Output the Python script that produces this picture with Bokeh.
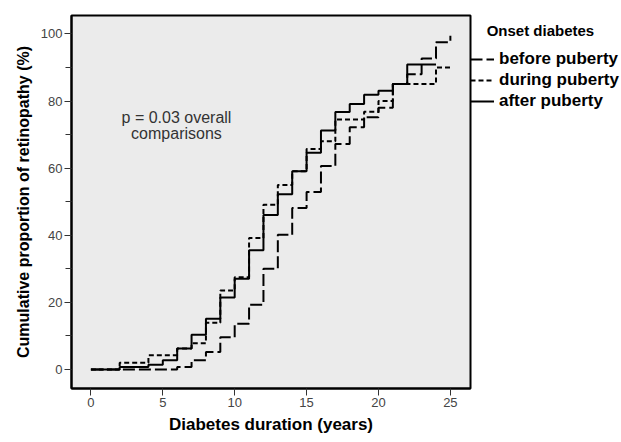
from bokeh.plotting import figure
from bokeh.models import Range1d, Legend, LegendItem, FixedTicker, Label
from bokeh.embed import file_html
from bokeh.resources import INLINE

# Data
before_x = [0, 6, 7, 8, 9, 10, 11, 12, 13, 14, 15, 16, 17, 18, 19, 20, 21, 22, 23, 24, 25]
before_y = [0, 0.7, 2.7, 5.2, 9.6, 13.6, 19.3, 30.0, 40.1, 48.1, 52.9, 60.6, 67.2, 72.2, 75.2, 78.0, 85.1, 88.0, 92.7, 97.5, 99.5]

during_x = [0, 2, 4, 6, 7, 8, 9, 10, 11, 12, 13, 14, 15, 16, 17, 19, 20, 21, 24, 25]
during_y = [0, 2.0, 4.2, 6.2, 7.8, 13.9, 23.5, 27.5, 39.2, 49.1, 55.0, 59.1, 65.7, 68.0, 74.5, 76.8, 80.0, 85.1, 90.0, 90.0]

after_x = [0, 2, 4, 5, 6, 7, 8, 9, 10, 11, 12, 13, 14, 15, 16, 17, 18, 19, 20, 21, 22, 24]
after_y = [0, 0.7, 1.4, 2.7, 6.2, 10.3, 15.1, 21.4, 27.0, 35.5, 46.0, 52.2, 59.1, 64.6, 71.2, 76.7, 79.1, 81.9, 83.1, 85.1, 90.9, 90.9]

x_ticks = [0, 5, 10, 15, 20, 25]
y_ticks = [0, 20, 40, 60, 80, 100]
y_minor = [10, 30, 50, 70, 90]

FONT = "Liberation Sans"

p = figure(frame_width=399, frame_height=373, output_backend="svg", toolbar_location=None,
           x_range=Range1d(-1.35, 26.4), y_range=Range1d(-5.7, 105.5),
           min_border_left=71, min_border_top=15, min_border_right=0, min_border_bottom=0)

p.background_fill_color = "#ebebeb"
p.border_fill_color = "white"
p.outline_line_color = "black"
p.outline_line_width = 2
p.grid.visible = False

r_before = p.step(before_x, before_y, mode="after", line_color="black", line_width=2, line_dash="12 4")
r_during = p.step(during_x, during_y, mode="after", line_color="black", line_width=2, line_dash="5 3")
r_after = p.step(after_x, after_y, mode="after", line_color="black", line_width=2)

p.xaxis.ticker = FixedTicker(ticks=x_ticks)
p.yaxis.ticker = FixedTicker(ticks=y_ticks, minor_ticks=y_minor)
for ax in (p.xaxis[0], p.yaxis[0]):
    ax.axis_line_color = "black"
    ax.axis_line_width = 2
    ax.major_tick_line_color = "#333333"
    ax.minor_tick_line_color = "#333333"
    ax.major_tick_out = 7
    ax.major_tick_in = 0
    ax.minor_tick_out = 6
    ax.minor_tick_in = 0
    ax.major_label_standoff = 2
    ax.major_label_text_font = FONT
    ax.major_label_text_font_size = "13px"
    ax.major_label_text_color = "#444444"
    ax.axis_label_text_font = FONT
    ax.axis_label_text_font_style = "bold"
    ax.axis_label_text_color = "black"

p.xaxis.axis_label = "Diabetes duration (years)"
p.yaxis.axis_label = "Cumulative proportion of retinopathy (%)"
p.xaxis.axis_label_text_font_size = "17px"
p.yaxis.axis_label_text_font_size = "16px"
p.xaxis.axis_label_standoff = 5
p.yaxis.axis_label_standoff = 6

p.add_layout(Label(x=5.95, y=75.1, text="p = 0.03 overall", text_align="center", text_baseline="middle",
                   text_font=FONT, text_font_size="16px", text_color="#333333"))
p.add_layout(Label(x=5.95, y=70.2, text="comparisons", text_align="center", text_baseline="middle",
                   text_font=FONT, text_font_size="16px", text_color="#333333"))

legend = Legend(items=[LegendItem(label="before puberty", renderers=[r_before]),
                       LegendItem(label="during puberty", renderers=[r_during]),
                       LegendItem(label="after puberty", renderers=[r_after])],
                title="\u00a0\u00a0\u00a0\u00a0Onset diabetes")
legend.title_text_font = FONT
legend.title_text_font_size = "15px"
legend.title_text_font_style = "bold"
legend.title_text_color = "black"
legend.title_standoff = 10
legend.label_text_font = FONT
legend.label_text_font_size = "17px"
legend.label_text_font_style = "bold"
legend.label_text_color = "black"
legend.label_height = 20
legend.glyph_width = 24
legend.glyph_height = 20
legend.label_standoff = 5
legend.spacing = 1
legend.padding = 0
legend.margin = 0
legend.border_line_alpha = 0
legend.background_fill_alpha = 0
legend.location = (0, 277)
p.add_layout(legend, "right")

open("out.html", "w").write(file_html(p, INLINE))
